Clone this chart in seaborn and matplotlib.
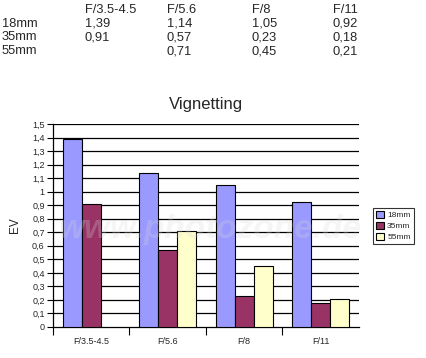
import numpy as np
import pandas as pd
import matplotlib
matplotlib.use('Agg')
import matplotlib.pyplot as plt
import seaborn as sns

# Data
apertures = ['F/3.5-4.5', 'F/5.6', 'F/8', 'F/11']
lenses = ['18mm', '35mm', '55mm']
ev_18 = [1.39, 1.14, 1.05, 0.92]
ev_35 = [0.91, 0.57, 0.23, 0.18]
ev_55 = [np.nan, 0.71, 0.45, 0.21]
table_18 = ['1,39', '1,14', '1,05', '0,92']
table_35 = ['0,91', '0,57', '0,23', '0,18']
table_55 = ['', '0,71', '0,45', '0,21']
y_ticks = [0, 0.1, 0.2, 0.3, 0.4, 0.5, 0.6, 0.7, 0.8, 0.9, 1.0, 1.1, 1.2, 1.3, 1.4, 1.5]
y_labels = ['0', '0,1', '0,2', '0,3', '0,4', '0,5', '0,6', '0,7', '0,8', '0,9',
            '1', '1,1', '1,2', '1,3', '1,4', '1,5']
colors = ['#9999FF', '#993366', '#FFFFCC']

df = pd.DataFrame({
    'Aperture': apertures * 3,
    'Lens': [l for l in lenses for _ in apertures],
    'EV': ev_18 + ev_35 + ev_55,
})

sns.set_style('white')
plt.rcParams['font.family'] = ['Liberation Sans', 'DejaVu Sans']

fig = plt.figure(figsize=(4.27, 3.58), dpi=100)
ax = fig.add_axes([53 / 427, 1 - 327 / 358, 306 / 427, 203 / 358])

sns.barplot(data=df, x='Aperture', y='EV', hue='Lens', palette=colors,
            width=0.75, edgecolor='black', linewidth=0.8, ax=ax, zorder=3,
            saturation=1)

# gridlines
ax.set_ylim(0, 1.5)
ax.set_xlim(-0.5, 3.5)
ax.set_yticks(y_ticks)
ax.set_yticklabels(y_labels, fontsize=6.5)
for y in y_ticks[1:]:
    ax.axhline(y, color='black', lw=0.9, zorder=1)
ax.tick_params(axis='y', length=4, width=0.8, color='black', pad=2, left=True)
ax.set_xticks(range(4))
ax.set_xticklabels(apertures, fontsize=6.5)
ax.tick_params(axis='x', length=0, pad=7)
ax.set_xticks([-0.5, 0.5, 1.5, 2.5], minor=True)
ax.tick_params(axis='x', which='minor', length=6, width=0.8, color='black', bottom=True)
for s in ['top', 'right']:
    ax.spines[s].set_visible(False)
for s in ['left', 'bottom']:
    ax.spines[s].set_color('black')
    ax.spines[s].set_linewidth(0.9)
ax.set_xlabel('')
ax.set_ylabel('EV', fontsize=8.5, labelpad=8)
ax.set_title('Vignetting', fontsize=12, pad=11)

# watermark
ax.text(1.55, 0.72, 'www.photozone.de', fontsize=24, fontweight='bold', style='italic',
        color='#d8d8d8', alpha=0.25, ha='center', va='center', zorder=4)

leg = ax.legend(loc='center', bbox_to_anchor=(393.5 / 427, 1 - 226 / 358),
                bbox_transform=fig.transFigure, fontsize=6, frameon=True,
                fancybox=False, edgecolor='black', handlelength=0.9,
                handleheight=0.9, handletextpad=0.4, borderpad=0.35,
                labelspacing=0.3, borderaxespad=0)
leg.get_frame().set_linewidth(0.8)

# data table at top
col_x = [85, 167, 252, 333]
row_y = [10, 24, 37, 51]
for x, a in zip(col_x, apertures):
    fig.text(x / 427, 1 - row_y[0] / 358, a, fontsize=9.3, va='center')
for r, (name, vals) in enumerate(zip(lenses, [table_18, table_35, table_55])):
    fig.text(2 / 427, 1 - row_y[r + 1] / 358, name, fontsize=9.3, va='center')
    for x, v in zip(col_x, vals):
        fig.text(x / 427, 1 - row_y[r + 1] / 358, v, fontsize=9.3, va='center')

fig.savefig('out.png', dpi=100)
